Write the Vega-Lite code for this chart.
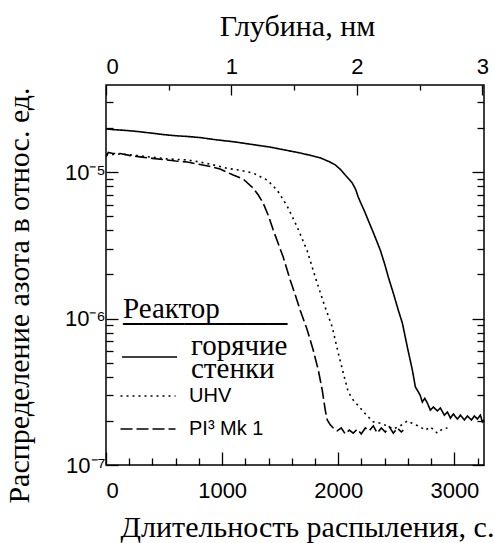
{
  "$schema": "https://vega.github.io/schema/vega-lite/v6.json",
  "width": 378,
  "height": 380,
  "autosize": "none",
  "padding": {"left": 106, "top": 85, "right": 10, "bottom": 78},
  "background": "white",
  "config": {
    "view": {"stroke": "black", "strokeWidth": 1.5},
    "axis": {"grid": false, "domain": false, "tickColor": "black", "tickWidth": 1.3, "labelColor": "black", "labelFont": "Liberation Sans", "labelFontSize": 22, "titleFont": "Liberation Serif", "titleFontSize": 30, "titleFontWeight": "normal", "titleColor": "black"},
    "legend": {"titleFont": "Liberation Serif", "labelFont": "Liberation Sans", "padding": 0},
    "style": {"guide-label": {"lineHeight": 23}}
  },
  "datasets": {
    "curves": [
      {"t": 0, "v": 1.97e-5, "s": "горячие стенки"},
      {"t": 60, "v": 1.95e-5, "s": "горячие стенки"},
      {"t": 150, "v": 1.93e-5, "s": "горячие стенки"},
      {"t": 250, "v": 1.9e-5, "s": "горячие стенки"},
      {"t": 379, "v": 1.85e-5, "s": "горячие стенки"},
      {"t": 500, "v": 1.8e-5, "s": "горячие стенки"},
      {"t": 600, "v": 1.77e-5, "s": "горячие стенки"},
      {"t": 700, "v": 1.75e-5, "s": "горячие стенки"},
      {"t": 810, "v": 1.72e-5, "s": "горячие стенки"},
      {"t": 950, "v": 1.66e-5, "s": "горячие стенки"},
      {"t": 1100, "v": 1.61e-5, "s": "горячие стенки"},
      {"t": 1241, "v": 1.55e-5, "s": "горячие стенки"},
      {"t": 1414, "v": 1.48e-5, "s": "горячие стенки"},
      {"t": 1550, "v": 1.41e-5, "s": "горячие стенки"},
      {"t": 1672, "v": 1.35e-5, "s": "горячие стенки"},
      {"t": 1760, "v": 1.3e-5, "s": "горячие стенки"},
      {"t": 1845, "v": 1.25e-5, "s": "горячие стенки"},
      {"t": 1920, "v": 1.18e-5, "s": "горячие стенки"},
      {"t": 1974, "v": 1.12e-5, "s": "горячие стенки"},
      {"t": 2020, "v": 1.04e-5, "s": "горячие стенки"},
      {"t": 2060, "v": 9.54e-6, "s": "горячие стенки"},
      {"t": 2095, "v": 8.9e-6, "s": "горячие стенки"},
      {"t": 2121, "v": 8.41e-6, "s": "горячие стенки"},
      {"t": 2150, "v": 7.6e-6, "s": "горячие стенки"},
      {"t": 2172, "v": 6.75e-6, "s": "горячие стенки"},
      {"t": 2200, "v": 6.0e-6, "s": "горячие стенки"},
      {"t": 2233, "v": 5.25e-6, "s": "горячие стенки"},
      {"t": 2262, "v": 4.6e-6, "s": "горячие стенки"},
      {"t": 2293, "v": 4.02e-6, "s": "горячие стенки"},
      {"t": 2330, "v": 3.4e-6, "s": "горячие стенки"},
      {"t": 2362, "v": 2.93e-6, "s": "горячие стенки"},
      {"t": 2400, "v": 2.35e-6, "s": "горячие стенки"},
      {"t": 2431, "v": 1.92e-6, "s": "горячие стенки"},
      {"t": 2474, "v": 1.49e-6, "s": "горячие стенки"},
      {"t": 2517, "v": 1.14e-6, "s": "горячие стенки"},
      {"t": 2552, "v": 9.31e-7, "s": "горячие стенки"},
      {"t": 2595, "v": 6.38e-7, "s": "горячие стенки"},
      {"t": 2638, "v": 4.45e-7, "s": "горячие стенки"},
      {"t": 2664, "v": 3.41e-7, "s": "горячие стенки"},
      {"t": 2690, "v": 3.15e-7, "s": "горячие стенки"},
      {"t": 2705, "v": 3.0e-7, "s": "горячие стенки"},
      {"t": 2724, "v": 2.69e-7, "s": "горячие стенки"},
      {"t": 2745, "v": 2.85e-7, "s": "горячие стенки"},
      {"t": 2767, "v": 2.65e-7, "s": "горячие стенки"},
      {"t": 2793, "v": 2.37e-7, "s": "горячие стенки"},
      {"t": 2819, "v": 2.49e-7, "s": "горячие стенки"},
      {"t": 2853, "v": 2.34e-7, "s": "горячие стенки"},
      {"t": 2879, "v": 2.45e-7, "s": "горячие стенки"},
      {"t": 2914, "v": 2.19e-7, "s": "горячие стенки"},
      {"t": 2940, "v": 2.3e-7, "s": "горячие стенки"},
      {"t": 2966, "v": 2.09e-7, "s": "горячие стенки"},
      {"t": 2991, "v": 2.23e-7, "s": "горячие стенки"},
      {"t": 3026, "v": 2.06e-7, "s": "горячие стенки"},
      {"t": 3052, "v": 2.19e-7, "s": "горячие стенки"},
      {"t": 3086, "v": 2.03e-7, "s": "горячие стенки"},
      {"t": 3112, "v": 2.16e-7, "s": "горячие стенки"},
      {"t": 3147, "v": 2.03e-7, "s": "горячие стенки"},
      {"t": 3172, "v": 2.16e-7, "s": "горячие стенки"},
      {"t": 3198, "v": 2.06e-7, "s": "горячие стенки"},
      {"t": 3224, "v": 2.19e-7, "s": "горячие стенки"},
      {"t": 3241, "v": 1.97e-7, "s": "горячие стенки"},
      {"t": 3255, "v": 2.03e-7, "s": "горячие стенки"},

      {"t": 0, "v": 1.31e-5, "s": "UHV"},
      {"t": 121, "v": 1.33e-5, "s": "UHV"},
      {"t": 293, "v": 1.29e-5, "s": "UHV"},
      {"t": 526, "v": 1.23e-5, "s": "UHV"},
      {"t": 698, "v": 1.21e-5, "s": "UHV"},
      {"t": 810, "v": 1.17e-5, "s": "UHV"},
      {"t": 922, "v": 1.12e-5, "s": "UHV"},
      {"t": 1043, "v": 1.06e-5, "s": "UHV"},
      {"t": 1155, "v": 1.03e-5, "s": "UHV"},
      {"t": 1267, "v": 9.84e-6, "s": "UHV"},
      {"t": 1388, "v": 8.81e-6, "s": "UHV"},
      {"t": 1474, "v": 7.53e-6, "s": "UHV"},
      {"t": 1560, "v": 5.86e-6, "s": "UHV"},
      {"t": 1647, "v": 4.21e-6, "s": "UHV"},
      {"t": 1733, "v": 2.89e-6, "s": "UHV"},
      {"t": 1802, "v": 1.92e-6, "s": "UHV"},
      {"t": 1871, "v": 1.3e-6, "s": "UHV"},
      {"t": 1948, "v": 8.75e-7, "s": "UHV"},
      {"t": 2000, "v": 5.81e-7, "s": "UHV"},
      {"t": 2043, "v": 4.25e-7, "s": "UHV"},
      {"t": 2086, "v": 3.15e-7, "s": "UHV"},
      {"t": 2129, "v": 2.78e-7, "s": "UHV"},
      {"t": 2190, "v": 2.45e-7, "s": "UHV"},
      {"t": 2250, "v": 2.16e-7, "s": "UHV"},
      {"t": 2302, "v": 1.97e-7, "s": "UHV"},
      {"t": 2362, "v": 1.93e-7, "s": "UHV"},
      {"t": 2422, "v": 1.85e-7, "s": "UHV"},
      {"t": 2474, "v": 1.76e-7, "s": "UHV"},
      {"t": 2534, "v": 1.85e-7, "s": "UHV"},
      {"t": 2595, "v": 2.0e-7, "s": "UHV"},
      {"t": 2647, "v": 1.91e-7, "s": "UHV"},
      {"t": 2707, "v": 1.82e-7, "s": "UHV"},
      {"t": 2750, "v": 1.73e-7, "s": "UHV"},
      {"t": 2793, "v": 1.82e-7, "s": "UHV"},
      {"t": 2853, "v": 1.65e-7, "s": "UHV"},
      {"t": 2897, "v": 1.76e-7, "s": "UHV"},
      {"t": 2940, "v": 1.79e-7, "s": "UHV"},

      {"t": 0, "v": 1.27e-5, "s": "PI³ Mk 1"},
      {"t": 20, "v": 1.36e-5, "s": "PI³ Mk 1"},
      {"t": 60, "v": 1.34e-5, "s": "PI³ Mk 1"},
      {"t": 121, "v": 1.34e-5, "s": "PI³ Mk 1"},
      {"t": 200, "v": 1.3e-5, "s": "PI³ Mk 1"},
      {"t": 293, "v": 1.27e-5, "s": "PI³ Mk 1"},
      {"t": 400, "v": 1.24e-5, "s": "PI³ Mk 1"},
      {"t": 526, "v": 1.21e-5, "s": "PI³ Mk 1"},
      {"t": 600, "v": 1.19e-5, "s": "PI³ Mk 1"},
      {"t": 698, "v": 1.17e-5, "s": "PI³ Mk 1"},
      {"t": 800, "v": 1.13e-5, "s": "PI³ Mk 1"},
      {"t": 897, "v": 1.09e-5, "s": "PI³ Mk 1"},
      {"t": 983, "v": 1.05e-5, "s": "PI³ Mk 1"},
      {"t": 1040, "v": 1.0e-5, "s": "PI³ Mk 1"},
      {"t": 1095, "v": 9.54e-6, "s": "PI³ Mk 1"},
      {"t": 1181, "v": 8.96e-6, "s": "PI³ Mk 1"},
      {"t": 1267, "v": 7.78e-6, "s": "PI³ Mk 1"},
      {"t": 1310, "v": 7.0e-6, "s": "PI³ Mk 1"},
      {"t": 1353, "v": 6.14e-6, "s": "PI³ Mk 1"},
      {"t": 1400, "v": 5.0e-6, "s": "PI³ Mk 1"},
      {"t": 1440, "v": 4.02e-6, "s": "PI³ Mk 1"},
      {"t": 1483, "v": 3.25e-6, "s": "PI³ Mk 1"},
      {"t": 1526, "v": 2.63e-6, "s": "PI³ Mk 1"},
      {"t": 1586, "v": 1.83e-6, "s": "PI³ Mk 1"},
      {"t": 1630, "v": 1.45e-6, "s": "PI³ Mk 1"},
      {"t": 1672, "v": 1.14e-6, "s": "PI³ Mk 1"},
      {"t": 1733, "v": 8.35e-7, "s": "PI³ Mk 1"},
      {"t": 1784, "v": 6.1e-7, "s": "PI³ Mk 1"},
      {"t": 1828, "v": 4.45e-7, "s": "PI³ Mk 1"},
      {"t": 1862, "v": 3.25e-7, "s": "PI³ Mk 1"},
      {"t": 1888, "v": 2.37e-7, "s": "PI³ Mk 1"},
      {"t": 1905, "v": 2.03e-7, "s": "PI³ Mk 1"},
      {"t": 1931, "v": 1.88e-7, "s": "PI³ Mk 1"},
      {"t": 1957, "v": 1.79e-7, "s": "PI³ Mk 1"},
      {"t": 1991, "v": 1.71e-7, "s": "PI³ Mk 1"},
      {"t": 2026, "v": 1.79e-7, "s": "PI³ Mk 1"},
      {"t": 2060, "v": 1.63e-7, "s": "PI³ Mk 1"},
      {"t": 2095, "v": 1.73e-7, "s": "PI³ Mk 1"},
      {"t": 2129, "v": 1.65e-7, "s": "PI³ Mk 1"},
      {"t": 2164, "v": 1.76e-7, "s": "PI³ Mk 1"},
      {"t": 2198, "v": 1.63e-7, "s": "PI³ Mk 1"},
      {"t": 2233, "v": 1.79e-7, "s": "PI³ Mk 1"},
      {"t": 2267, "v": 1.71e-7, "s": "PI³ Mk 1"},
      {"t": 2302, "v": 1.85e-7, "s": "PI³ Mk 1"},
      {"t": 2336, "v": 1.65e-7, "s": "PI³ Mk 1"},
      {"t": 2371, "v": 1.79e-7, "s": "PI³ Mk 1"},
      {"t": 2405, "v": 1.68e-7, "s": "PI³ Mk 1"},
      {"t": 2440, "v": 1.82e-7, "s": "PI³ Mk 1"},
      {"t": 2474, "v": 1.65e-7, "s": "PI³ Mk 1"},
      {"t": 2509, "v": 1.79e-7, "s": "PI³ Mk 1"},
      {"t": 2543, "v": 1.68e-7, "s": "PI³ Mk 1"},
      {"t": 2560, "v": 1.73e-7, "s": "PI³ Mk 1"}
    ]
  },
  "data": {"name": "curves"},
  "resolve": {"axis": {"x": "independent", "y": "independent"}},
  "layer": [
    {
      "mark": {"type": "line", "color": "black", "strokeWidth": 1.6, "clip": true},
      "encoding": {
        "x": {"field": "t", "type": "quantitative",
          "scale": {"domain": [0, 3255], "nice": false, "zero": false},
          "axis": {"orient": "bottom", "values": [0, 1000, 2000, 3000], "format": "d", "tickSize": -13, "labelPadding": 28, "title": "Длительность распыления, с.", "titleX": 201, "titleY": 62, "titleBaseline": "middle", "titleAnchor": "middle", "titleAlign": "center"}},
        "y": {"field": "v", "type": "quantitative",
          "scale": {"type": "log", "domain": [1e-7, 3.93e-5], "nice": false},
          "axis": {"orient": "left", "values": [1e-7, 1e-6, 1e-5], "tickSize": -12, "labelPadding": 13,
            "labelExpr": "datum.value < 5e-7 ? '10⁻⁷' : datum.value < 5e-6 ? '10⁻⁶' : '10⁻⁵'",
            "title": "Распределение азота в относ. ед.", "titleX": -87, "titleY": 210, "titleBaseline": "middle", "titleAlign": "center", "titleAngle": -90}},
        "strokeDash": {"field": "s", "type": "nominal",
          "scale": {"domain": ["горячие стенки", "UHV", "PI³ Mk 1"], "range": [[1, 0], [2, 4], [12, 4]]},
          "legend": {"orient": "none", "legendX": 17, "legendY": 301, "padding": 0, "values": ["UHV", "PI³ Mk 1"], "title": null,
            "symbolType": "M-2.27,0H7.73", "symbolSize": 121, "symbolStrokeWidth": 1.5, "symbolStrokeColor": "black", "symbolFillColor": "transparent",
            "labelOffset": 46, "labelColor": "black", "labelFont": "Liberation Sans", "labelFontSize": 20, "labelLimit": 300, "rowPadding": 13}},
        "opacity": {"field": "s", "type": "nominal",
          "scale": {"domain": ["горячие стенки", "UHV", "PI³ Mk 1", "-"], "range": [1, 1, 1, 1]},
          "legend": {"orient": "none", "legendX": 17, "legendY": 210, "padding": 0, "values": ["горячие стенки"],
            "title": [" Реактор", "────────"], "titleLineHeight": 15, "titleLimit": 400,
            "titleFont": "Liberation Serif", "titleFontSize": 29, "titleFontWeight": "normal", "titleColor": "black", "titlePadding": -8,
            "symbolType": "M-2.8,2.09H7.2", "symbolSize": 121, "symbolStrokeWidth": 1.5, "symbolStrokeColor": "black", "symbolFillColor": "transparent", "symbolOpacity": 1,
            "labelOffset": 39, "labelColor": "black", "labelFont": "Liberation Serif", "labelFontSize": 29, "labelLimit": 300,
            "labelExpr": "['горячие', 'стенки']"}}
      }
    },
    {
      "mark": {"type": "point", "opacity": 0},
      "encoding": {
        "x": {"field": "t", "type": "quantitative",
          "axis": {"orient": "bottom", "values": [200, 400, 600, 800, 1200, 1400, 1600, 1800, 2200, 2400, 2600, 2800, 3200], "tickSize": -7, "labels": false, "title": null}},
        "y": {"field": "v", "type": "quantitative",
          "axis": {"orient": "left", "values": [2e-7, 3e-7, 4e-7, 5e-7, 6e-7, 7e-7, 8e-7, 9e-7, 2e-6, 3e-6, 4e-6, 5e-6, 6e-6, 7e-6, 8e-6, 9e-6, 2e-5, 3e-5], "tickSize": -7, "labels": false, "title": null}}
      }
    },
    {
      "mark": {"type": "point", "opacity": 0},
      "encoding": {
        "x": {"field": "t", "type": "quantitative",
          "axis": {"orient": "top", "values": [0, 1080, 2160, 3240], "tickSize": -10, "labelPadding": 17, "labelExpr": "round(datum.value / 1080)",
            "title": "Глубина, нм", "titleX": 191, "titleY": -59, "titleBaseline": "middle", "titleAlign": "center"}},
        "y": {"field": "v", "type": "quantitative",
          "axis": {"orient": "right", "values": [1e-7, 1e-6, 1e-5], "tickSize": -12, "labels": false, "title": null}}
      }
    },
    {
      "mark": {"type": "point", "opacity": 0},
      "encoding": {
        "x": {"field": "t", "type": "quantitative",
          "axis": {"orient": "top", "values": [540, 1620, 2700], "tickSize": -5, "labels": false, "title": null}},
        "y": {"field": "v", "type": "quantitative",
          "axis": {"orient": "right", "values": [2e-7, 3e-7, 4e-7, 5e-7, 6e-7, 7e-7, 8e-7, 9e-7, 2e-6, 3e-6, 4e-6, 5e-6, 6e-6, 7e-6, 8e-6, 9e-6, 2e-5, 3e-5], "tickSize": -7, "labels": false, "title": null}}
      }
    }
  ]
}
